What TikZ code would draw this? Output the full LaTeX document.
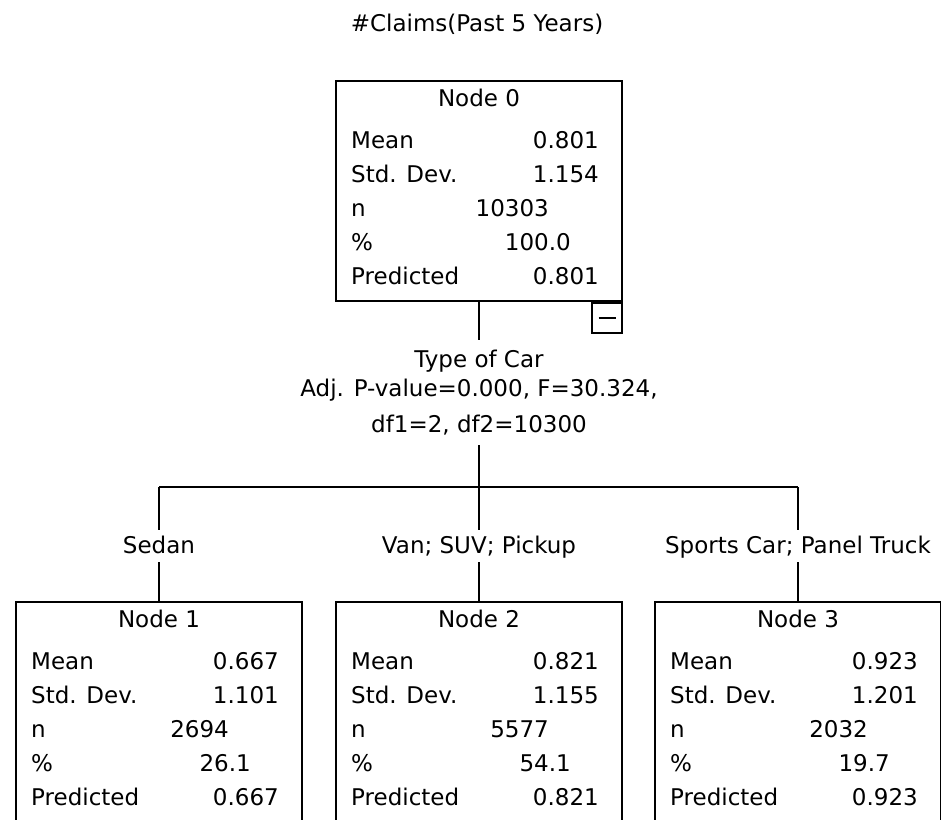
\documentclass[tikz,border=0pt]{standalone}
\usepackage{fontspec}
\setmainfont{DejaVu Sans}
\usetikzlibrary{calc}

\begin{document}
\begin{tikzpicture}[x=1pt, y=-1pt,
    statbox/.style={draw, line width=2pt, anchor=north,
                    minimum width=286pt, minimum height=220pt, inner sep=0pt},
    txt/.style={font=\fontsize{23}{29}\selectfont, inner sep=0pt,
                text height=16.8pt, text depth=0pt},
    branch/.style={font=\fontsize{23}{29}\selectfont, inner xsep=0pt,
                   inner ysep=6pt, text height=17pt, text depth=3pt},
    split/.style={font=\fontsize{23}{29}\selectfont, align=center,
                  inner xsep=0pt, inner ysep=10pt},
    toggle/.style={draw, line width=2pt, minimum width=30pt,
                   minimum height=30pt, inner sep=0pt},
    link/.style={line width=2pt}
  ]
  \clip (0,0) rectangle (941,819);
  \node[txt] (title) at (477,23) {\#Claims(Past 5 Years)};
  % one box per tree node
  \foreach \k/\cx/\cy/\mn/\sd/\cnt/\pc/\pr in
     {0/479/80/0.801/1.154/10303/100.0/0.801,
      1/159/601/0.667/1.101/2694/26.1/0.667,
      2/479/601/0.821/1.155/5577/54.1/0.821,
      3/798/601/0.923/1.201/2032/19.7/0.923} {
    \node[statbox] (n\k) at (\cx,\cy) {};
    \node[txt] (h\k) at ($(n\k.north)+(0,18)$) {Node \k};
    \node[txt, anchor=west] (lm\k) at ($(n\k.north west)+(16,60)$) {Mean};
    \node[txt, anchor=east] (vm\k) at ($(n\k.north west)+(264,60)$) {\mn};
    \node[txt, anchor=west] (ls\k) at ($(n\k.north west)+(16,94)$) {Std. Dev.};
    \node[txt, anchor=east] (vs\k) at ($(n\k.north west)+(264,94)$) {\sd};
    \node[txt, anchor=west] (ln\k) at ($(n\k.north west)+(16,128)$) {n};
    \node[txt, anchor=east] (vn\k) at ($(n\k.north west)+(214,128)$) {\cnt};
    \node[txt, anchor=west] (lp\k) at ($(n\k.north west)+(16,162)$) {\%};
    \node[txt, anchor=east] (vp\k) at ($(n\k.north west)+(236,162)$) {\pc};
    \node[txt, anchor=west] (lr\k) at ($(n\k.north west)+(16,196)$) {Predicted};
    \node[txt, anchor=east] (vr\k) at ($(n\k.north west)+(264,196)$) {\pr};
  }
  \node[toggle, anchor=north east] (tog) at (n0.south east) {\rule[-1pt]{17pt}{2pt}};
  \node[split, anchor=north] (split) at (479,339.5)
    {Type of Car\\Adj. P-value=0.000, F=30.324,\\[7pt]df1=2, df2=10300};
  \coordinate (fork) at (479,487);
  \node[branch] (b1) at (159,546) {Sedan};
  \node[branch] (b2) at (479,546) {Van; SUV; Pickup};
  \node[branch] (b3) at (798,546) {Sports Car; Panel Truck};
  % connectors
  \draw[link] (n0.south) -- (split.north);
  \draw[link] (split.south) -- (b2.north);
  \draw[link] (b1.north |- fork) -- (b3.north |- fork);
  \draw[link] (b1.north |- fork) -- (b1.north);
  \draw[link] (b3.north |- fork) -- (b3.north);
  \draw[link] (b1.south) -- (n1.north);
  \draw[link] (b2.south) -- (n2.north);
  \draw[link] (b3.south) -- (n3.north);
\end{tikzpicture}
\end{document}
